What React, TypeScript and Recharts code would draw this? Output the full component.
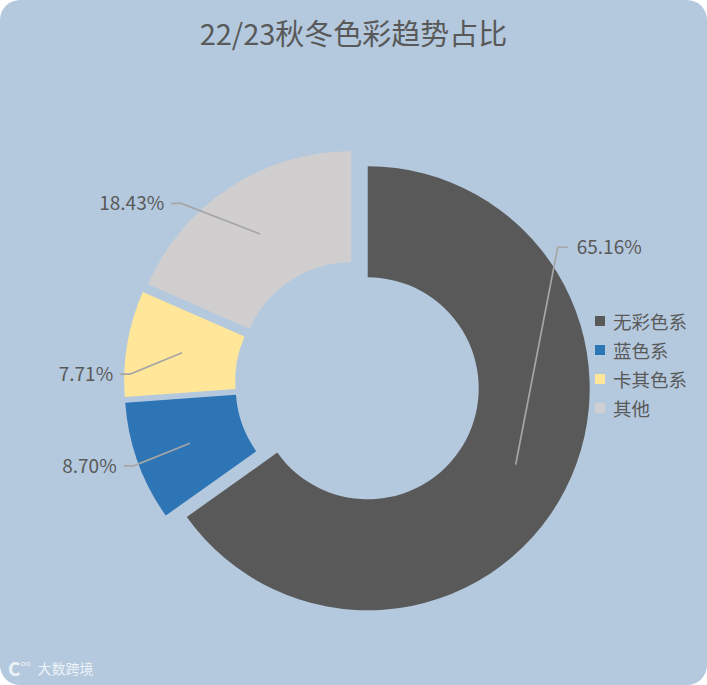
import { PieChart, Pie, Cell } from "recharts";

const categories = ["无彩色系", "蓝色系", "卡其色系", "其他"];
const shares = [65.16, 8.7, 7.71, 18.43];
const labels = ["65.16%", "8.70%", "7.71%", "18.43%"];
const colors = ["#595959", "#2E75B6", "#FFE699", "#D0CECE"];

const W = 707;
const H = 685;
const CX = 357.5;
const CY = 383;
const OUTER = 222;
const INNER = 111;
const EXPLODE = 11.5;
const FONT = '"Microsoft YaHei", "Noto Sans CJK SC", sans-serif';
const TEXT = "#595959";

// where each leader line bends, relative to its slice centre (excel "best fit")
const elbow = [
  [190, -141],
  [-213, 79],
  [-216, -7],
  [-170, -170],
];

const data = categories.map((name, i) => ({ name, value: shares[i] }));
const total = shares.reduce((a, b) => a + b, 0);

// every slice pulled out along its own mid angle (clockwise from 12 o'clock)
const offsets = shares.map((v, i) => {
  const before = shares.slice(0, i).reduce((a, b) => a + b, 0);
  const mid = ((before + v / 2) / total) * 2 * Math.PI;
  return [Math.sin(mid) * EXPLODE, -Math.cos(mid) * EXPLODE];
});

const RAD = Math.PI / 180;

const makeLabel = (k: number) => (props: any) => {
  if (props.index !== k) return null;
  const { cx, cy, midAngle, innerRadius, outerRadius } = props;
  const r = (innerRadius + outerRadius) / 2;
  const sx = cx + r * Math.cos(-midAngle * RAD);
  const sy = cy + r * Math.sin(-midAngle * RAD);
  const ex = cx + elbow[k][0];
  const ey = cy + elbow[k][1];
  const right = elbow[k][0] > 0;
  const tx = ex + (right ? 10 : -10);
  return (
    <g>
      <polyline
        points={`${sx},${sy} ${ex},${ey} ${tx},${ey}`}
        fill="none"
        stroke="#A6A6A6"
        strokeWidth={1.7}
      />
      <text
        x={tx + (right ? 9 : -7)}
        y={ey}
        dy="0.36em"
        textAnchor={right ? "start" : "end"}
        fill={TEXT}
        fontSize={19}
        fontFamily={FONT}
      >
        {labels[k]}
      </text>
    </g>
  );
};

export default function App() {
  return (
    <div
      style={{
        position: "relative",
        width: W,
        height: H,
        background: "#B4C9DE",
        borderRadius: 20,
        overflow: "hidden",
        fontFamily: FONT,
      }}
    >
      <style>{"body{margin:0;background:#fff}"}</style>
      <div
        style={{
          position: "absolute",
          top: 18,
          left: 0,
          width: W,
          textAlign: "center",
          fontSize: 29,
          lineHeight: "29px",
          color: TEXT,
        }}
      >
        22/23秋冬色彩趋势占比
      </div>

      <PieChart width={W} height={H} margin={{ top: 0, right: 0, bottom: 0, left: 0 }}>
        {categories.map((_, k) => (
          <Pie
            key={`slice-${k}`}
            data={data}
            dataKey="value"
            nameKey="name"
            cx={CX + offsets[k][0]}
            cy={CY + offsets[k][1]}
            startAngle={90}
            endAngle={-270}
            innerRadius={INNER}
            outerRadius={OUTER}
            stroke="none"
            label={makeLabel(k)}
            labelLine={false}
            isAnimationActive={false}
          >
            {data.map((_, i) => (
              <Cell
                key={`cell-${k}-${i}`}
                fill={i === k ? colors[i] : "transparent"}
                stroke="none"
              />
            ))}
          </Pie>
        ))}
      </PieChart>

      <div style={{ position: "absolute", left: 595, top: 306 }}>
        {categories.map((c, i) => (
          <div
            key={c}
            style={{
              display: "flex",
              alignItems: "center",
              height: 29,
              fontSize: 18.5,
              color: TEXT,
            }}
          >
            <span
              style={{
                width: 10,
                height: 10,
                background: colors[i],
                marginRight: 8,
                display: "inline-block",
              }}
            />
            {c}
          </div>
        ))}
      </div>

      <div
        style={{
          position: "absolute",
          left: 8,
          top: 654,
          color: "rgba(255,255,255,0.8)",
          fontSize: 14,
          display: "flex",
          alignItems: "center",
        }}
      >
        <span style={{ fontWeight: 700, fontSize: 19 }}>C</span>
        <span style={{ fontSize: 10, marginTop: -8, marginRight: 7 }}>∞</span>
        大数跨境
      </div>
    </div>
  );
}
